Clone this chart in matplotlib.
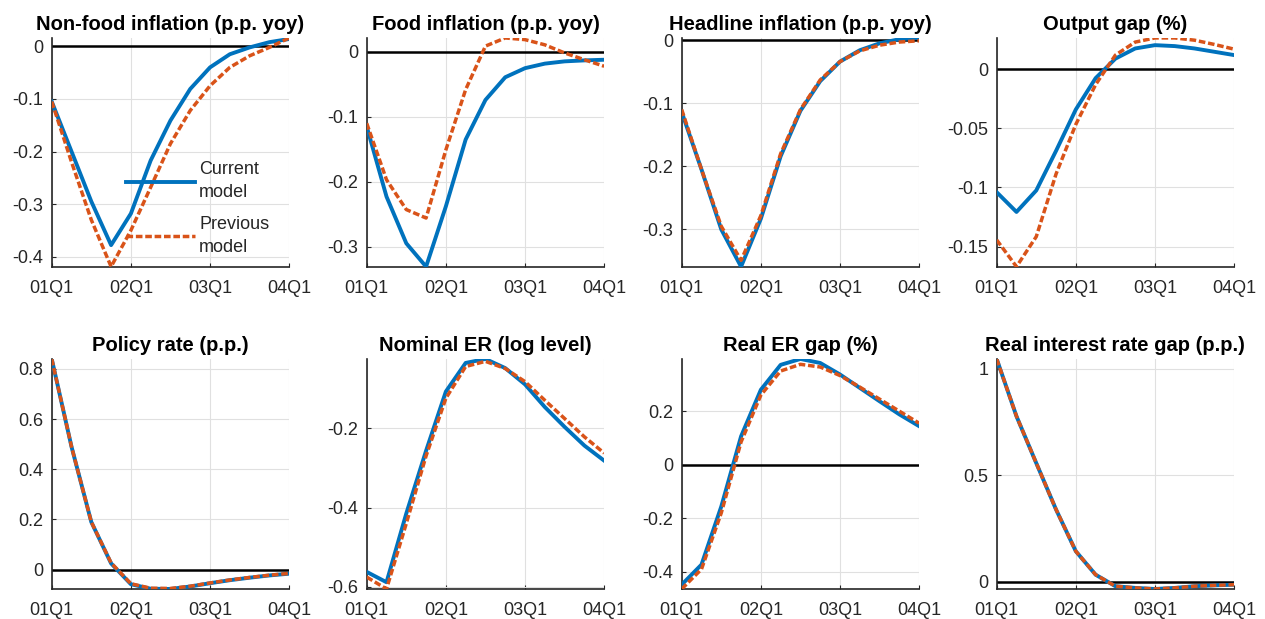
import numpy as np
import matplotlib
matplotlib.use("Agg")
import matplotlib.pyplot as plt

plt.rcParams["font.family"] = ["Liberation Sans", "DejaVu Sans"]
plt.rcParams["axes.unicode_minus"] = False

quarters = np.arange(13)
tick_pos = [0, 4, 8, 12]
tick_labels = ["01Q1", "02Q1", "03Q1", "04Q1"]

titles = [
    "Non-food inflation (p.p. yoy)",
    "Food inflation (p.p. yoy)",
    "Headline inflation (p.p. yoy)",
    "Output gap (%)",
    "Policy rate (p.p.)",
    "Nominal ER (log level)",
    "Real ER gap (%)",
    "Real interest rate gap (p.p.)",
]

# impulse responses, current model
nonfood_cur = [-0.105, -0.20, -0.295, -0.378, -0.318, -0.217, -0.141, -0.081, -0.040, -0.015, -0.002, 0.008, 0.014]
food_cur = [-0.115, -0.223, -0.295, -0.331, -0.238, -0.135, -0.074, -0.039, -0.025, -0.018, -0.0145, -0.013, -0.012]
headline_cur = [-0.114, -0.205, -0.300, -0.359, -0.283, -0.184, -0.112, -0.065, -0.034, -0.016, -0.005, 0.0015, 0.0035]
gap_cur = [-0.104, -0.1207, -0.1025, -0.069, -0.034, -0.0075, 0.009, 0.0176, 0.0204, 0.0196, 0.0176, 0.0148, 0.012]
policy_cur = [0.84, 0.49, 0.19, 0.025, -0.058, -0.076, -0.077, -0.067, -0.054, -0.042, -0.032, -0.023, -0.016]
ner_cur = [-0.562, -0.588, -0.415, -0.257, -0.108, -0.036, -0.026, -0.049, -0.090, -0.147, -0.197, -0.244, -0.282]
rer_cur = [-0.448, -0.373, -0.156, 0.106, 0.280, 0.373, 0.395, 0.380, 0.337, 0.287, 0.237, 0.188, 0.144]
rir_cur = [1.047, 0.778, 0.558, 0.340, 0.144, 0.034, -0.020, -0.028, -0.033, -0.028, -0.020, -0.016, -0.013]

# impulse responses, previous model
nonfood_prev = [-0.105, -0.22, -0.33, -0.419, -0.35, -0.268, -0.185, -0.122, -0.075, -0.040, -0.018, -0.002, 0.016]
food_prev = [-0.110, -0.197, -0.243, -0.256, -0.151, -0.058, 0.009, 0.0216, 0.019, 0.011, -0.0015, -0.012, -0.022]
headline_prev = [-0.110, -0.205, -0.295, -0.349, -0.278, -0.180, -0.110, -0.063, -0.034, -0.017, -0.008, -0.003, -0.001]
gap_prev = [-0.1444, -0.167, -0.1416, -0.0886, -0.0466, -0.013, 0.012, 0.023, 0.0265, 0.0265, 0.0246, 0.021, 0.017]
policy_prev = [0.84, 0.49, 0.19, 0.027, -0.056, -0.074, -0.075, -0.066, -0.053, -0.041, -0.031, -0.022, -0.015]
ner_prev = [-0.575, -0.605, -0.440, -0.270, -0.125, -0.045, -0.032, -0.050, -0.083, -0.130, -0.176, -0.222, -0.263]
rer_prev = [-0.464, -0.390, -0.180, 0.085, 0.260, 0.350, 0.375, 0.365, 0.333, 0.290, 0.245, 0.200, 0.155]
rir_prev = [1.047, 0.778, 0.558, 0.340, 0.144, 0.034, -0.020, -0.028, -0.033, -0.028, -0.020, -0.016, -0.013]

current = [nonfood_cur, food_cur, headline_cur, gap_cur, policy_cur, ner_cur, rer_cur, rir_cur]
previous = [nonfood_prev, food_prev, headline_prev, gap_prev, policy_prev, ner_prev, rer_prev, rir_prev]

yticks = [
    [-0.4, -0.3, -0.2, -0.1, 0],
    [-0.3, -0.2, -0.1, 0],
    [-0.3, -0.2, -0.1, 0],
    [-0.15, -0.1, -0.05, 0],
    [0, 0.2, 0.4, 0.6, 0.8],
    [-0.6, -0.4, -0.2],
    [-0.4, -0.2, 0, 0.2],
    [0, 0.5, 1],
]

blue = "#0072BD"
orange = "#D95319"
dark = "#262626"

fig = plt.figure(figsize=(12.65, 6.19), dpi=100)
lefts = [0.0409, 0.2899, 0.5389, 0.7879]
width = 0.1877
rows = [(0.5692, 0.3695), (0.0485, 0.3716)]

for i in range(8):
    bottom, height = rows[i // 4]
    ax = fig.add_axes([lefts[i % 4], bottom, width, height])
    cur = np.array(current[i])
    prev = np.array(previous[i])

    ax.axhline(0, color="black", lw=1.8, zorder=2)
    ax.plot(quarters, cur, color=blue, lw=2.8, zorder=3, label="Current\nmodel")
    ax.plot(quarters, prev, color=orange, lw=2.5, ls=(0, (1.9, 0.8)), zorder=4,
            label="Previous\nmodel")

    lo = min(cur.min(), prev.min())
    hi = max(cur.max(), prev.max())
    ax.set_xlim(0, 12)
    ax.set_ylim(lo, hi)
    ax.set_xticks(tick_pos)
    ax.set_xticklabels(tick_labels)
    ax.set_yticks(yticks[i])
    ax.set_yticklabels([("%g" % v) for v in yticks[i]])

    ax.grid(True, color="#e0e0e0", lw=0.8, zorder=0)
    ax.set_axisbelow(True)
    for side in ["top", "right"]:
        ax.spines[side].set_visible(False)
    for side in ["left", "bottom"]:
        ax.spines[side].set_color(dark)
        ax.spines[side].set_linewidth(1.2)
    ax.tick_params(direction="in", length=3, width=0.8, color=dark,
                   labelcolor=dark, labelsize=13)
    ax.tick_params(axis="x", pad=9.5)
    ax.tick_params(axis="y", pad=6)
    ax.set_title(titles[i], fontsize=14.5, fontweight="bold", pad=6)

    if i == 0:
        leg = ax.legend(loc="upper left", bbox_to_anchor=(0.313, 0.46), frameon=False,
                        fontsize=13, handlelength=3.8, handletextpad=0.25,
                        labelspacing=0.8, borderpad=0, borderaxespad=0,
                        labelcolor=dark)
        for t in leg.get_texts():
            t.set_linespacing(1.45)

fig.savefig("out.png", dpi=100)
